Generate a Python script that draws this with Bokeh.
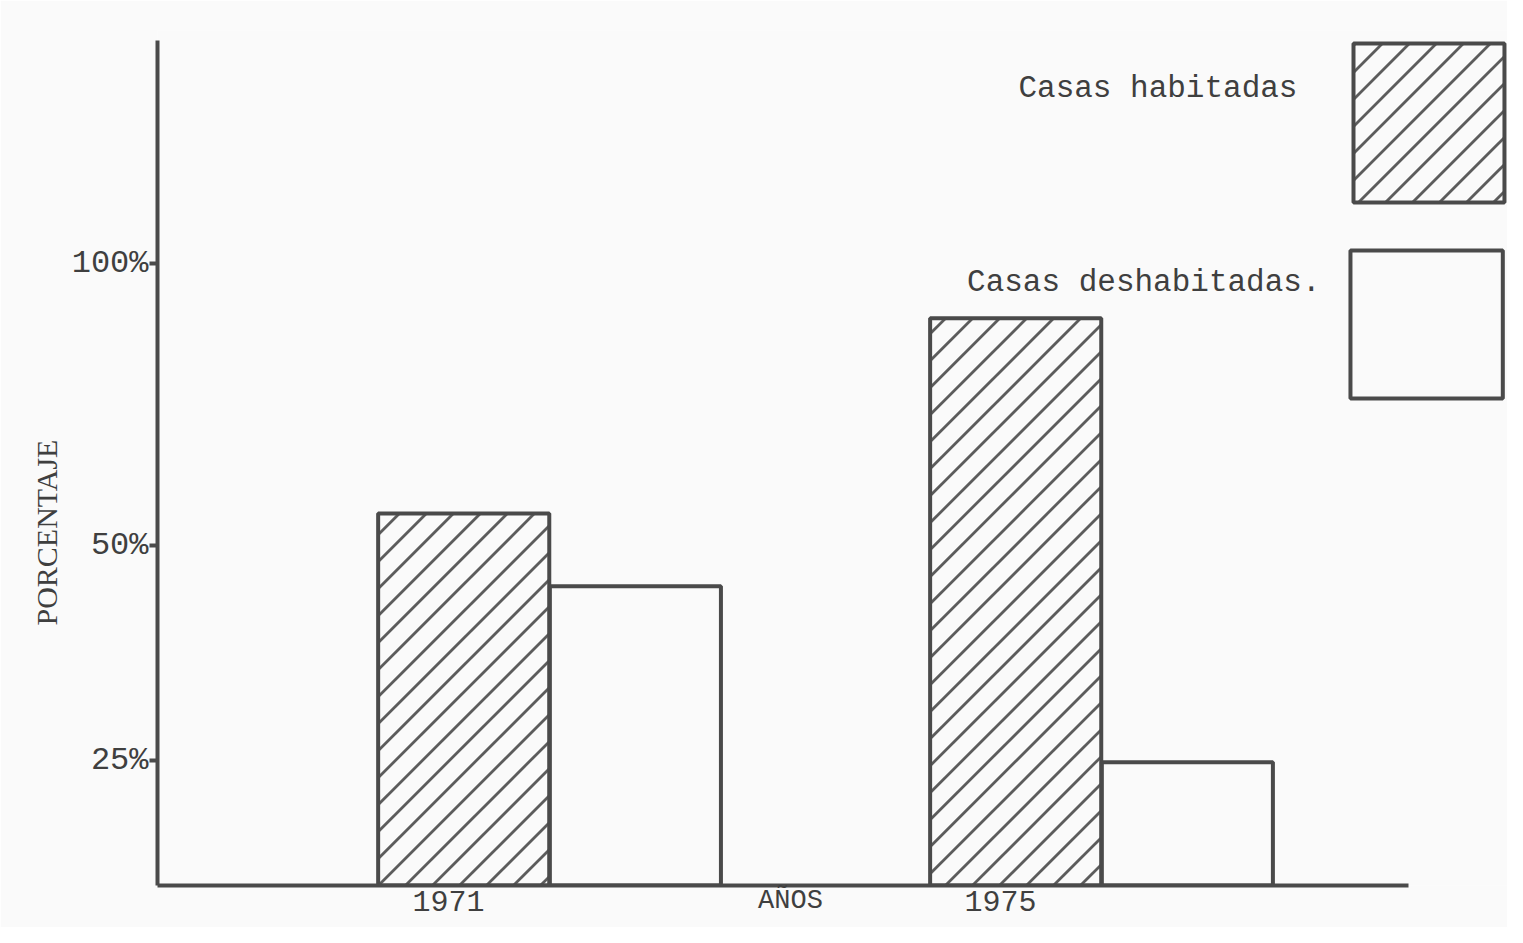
import math
from bokeh.plotting import figure
from bokeh.models import Range1d, FixedTicker, ColumnDataSource, Title, LinearAxis
from bokeh.core.properties import value
from bokeh.embed import file_html
from bokeh.resources import INLINE

# ---- data ----
years = [1971, 1975]
year_labels = ["1971", "1975"]
habitadas = [59.8, 91.2]        # % casas habitadas
deshabitadas = [48.1, 19.8]     # % casas deshabitadas
y_ticks = [100, 54.7, 20.1]
y_tick_labels = ["100%", "50%", "25%"]
legend_labels = ["Casas habitadas", "Casas deshabitadas."]
x_title = "AÑOS"
y_title = "PORCENTAJE"

# ---- style / layout ----
BG = "#fafafa"
INK = "#4a4a4a"
HATCH = "#5c5c5c"
TEXT = "#3f3f3f"
MONO = "Liberation Mono"
SERIF = "Liberation Serif"

W, H = 1507, 927
BL, BR, BT, BB = 157, 0, 30, 42
X0, X1 = 1968.891, 1978.674
Y0, Y1 = 0, 137.46

BAR_W = 1.24
OFF_HAB = 0.11
OFF_DES = 1.354
X_TITLE_AT = 1973.478   # where the typed axis title sits along the x axis
HATCH_GAP = 27          # px between hatch lines (measured horizontally)

# legend layout (label, then a large sample box, as in the original)
leg_left = [1977.558, 1977.536]
leg_right = [1978.652, 1978.640]
leg_top = [135.37, 102.09]
leg_bottom = [109.81, 78.30]
leg_text_x = [1977.152, 1977.319]
leg_text_y = [128.1, 96.9]

p = figure(width=W, height=H, output_backend="svg", toolbar_location=None,
           x_range=Range1d(X0, X1), y_range=Range1d(Y0, Y1),
           min_border_left=BL, min_border_right=BR, min_border_top=BT,
           min_border_bottom=BB)
p.background_fill_color = BG
p.border_fill_color = BG
p.outline_line_color = None
p.xgrid.visible = False
p.ygrid.visible = False

# pixel scale of the frame, for 45-degree hatch lines
sx = (W - BL - BR) / (X1 - X0)
sy = (H - BT - BB) / (Y1 - Y0)


def hatch_segments(lefts, rights, bottoms, tops):
    """Diagonal '/' hatch lines clipped to each rectangle (data coordinates)."""
    xs0, ys0, xs1, ys1 = [], [], [], []
    for l, r, b, t in zip(lefts, rights, bottoms, tops):
        ul, ur, vb, vt = l * sx, r * sx, b * sy, t * sy
        c = math.floor((vb - ur) / HATCH_GAP) * HATCH_GAP
        while c <= vt - ul:
            u0 = max(ul, vb - c)
            u1 = min(ur, vt - c)
            if u1 > u0 + 1:
                xs0.append(u0 / sx); ys0.append((u0 + c) / sy)
                xs1.append(u1 / sx); ys1.append((u1 + c) / sy)
            c += HATCH_GAP
    return dict(x0=xs0, y0=ys0, x1=xs1, y1=ys1)


x_hab = [y + OFF_HAB for y in years]
x_des = [y + OFF_DES for y in years]
src = ColumnDataSource(dict(x_hab=x_hab, x_des=x_des, hab=habitadas, des=deshabitadas))

# bars: fill, hatch, outline
p.vbar(x="x_hab", top="hab", bottom=0, width=BAR_W, source=src,
       fill_color=BG, line_color=None)
p.vbar(x="x_des", top="des", bottom=0, width=BAR_W, source=src,
       fill_color=BG, line_color=INK, line_width=4)

hatch = hatch_segments(
    [x - BAR_W / 2 for x in x_hab] + leg_left[:1],
    [x + BAR_W / 2 for x in x_hab] + leg_right[:1],
    [0 for _ in x_hab] + leg_bottom[:1],
    list(habitadas) + leg_top[:1])
p.segment(x0="x0", y0="y0", x1="x1", y1="y1", source=ColumnDataSource(hatch),
          line_color=HATCH, line_width=2.8)

p.vbar(x="x_hab", top="hab", bottom=0, width=BAR_W, source=src,
       fill_color=None, line_color=INK, line_width=4)

# legend boxes + texts
p.quad(left=leg_left[:1], right=leg_right[:1], top=leg_top[:1], bottom=leg_bottom[:1],
       fill_color=None, line_color=INK, line_width=4)
p.quad(left=leg_left[1:], right=leg_right[1:], top=leg_top[1:], bottom=leg_bottom[1:],
       fill_color=BG, line_color=INK, line_width=4)
p.text(x=leg_text_x, y=leg_text_y, text=legend_labels,
       text_align="right", text_baseline="middle",
       text_font=value(MONO), text_font_size="31px", text_color=TEXT)

# axes
xa = p.xaxis[0]
xa.ticker = FixedTicker(ticks=years)
xa.major_label_overrides = {y: l for y, l in zip(years, year_labels)}
xa.bounds = (X0, 1977.96)
xa.axis_line_width = 4
xa.axis_line_color = INK
xa.major_tick_out = 0
xa.major_tick_in = 0
xa.minor_tick_out = 0
xa.minor_tick_in = 0
xa.major_label_standoff = 5
xa.major_label_text_font = MONO
xa.major_label_text_font_size = "30px"
xa.major_label_text_color = TEXT

# x axis title, typed off-centre below the axis as in the original
xt = LinearAxis(ticker=FixedTicker(ticks=[X_TITLE_AT]),
                major_label_overrides={X_TITLE_AT: x_title})
xt.axis_line_color = None
xt.major_tick_line_color = None
xt.minor_tick_line_color = None
xt.major_tick_out = 0
xt.major_tick_in = 0
xt.minor_tick_out = 0
xt.minor_tick_in = 0
xt.major_label_standoff = -28
xt.major_label_text_font = MONO
xt.major_label_text_font_size = "27px"
xt.major_label_text_color = TEXT
p.add_layout(xt, "below")

ya = p.yaxis[0]
ya.ticker = FixedTicker(ticks=y_ticks)
ya.major_label_overrides = {t: l for t, l in zip(y_ticks, y_tick_labels)}
ya.bounds = (0, 135.85)
ya.axis_line_width = 4
ya.axis_line_color = INK
ya.major_tick_out = 8
ya.major_tick_in = 0
ya.major_tick_line_width = 4
ya.major_tick_line_color = INK
ya.minor_tick_out = 0
ya.minor_tick_in = 0
ya.major_label_standoff = 1
ya.major_label_text_font = MONO
ya.major_label_text_font_size = "32px"
ya.major_label_text_color = TEXT

# y axis title, placed along the lower part of the axis as in the original
p.add_layout(Title(text=y_title, align="left", offset=260, text_font=SERIF,
                   text_font_size="30px", text_font_style="normal",
                   text_color=TEXT, standoff=12), "left")

open("out.html", "w").write(file_html(p, INLINE))
